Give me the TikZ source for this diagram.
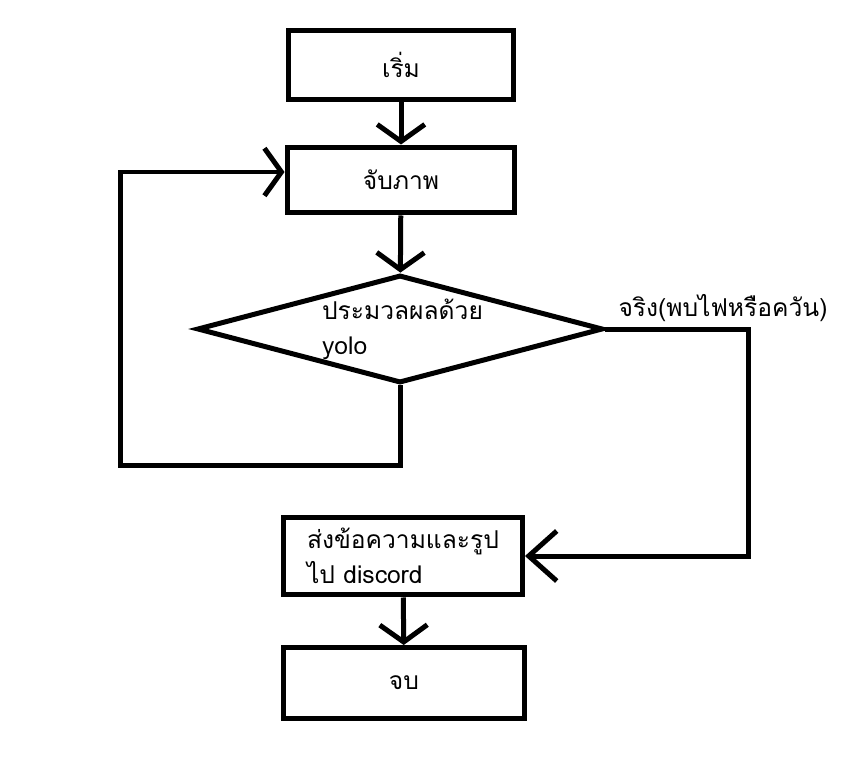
\documentclass[tikz,border=0pt]{standalone}
\usepackage{fontspec}
\setmainfont[Script=Thai]{Loma}
\usetikzlibrary{arrows.meta,shapes.geometric}

\tikzset{
  stepbox/.style={draw, line width=0.1cm, rectangle, inner sep=0pt},
  testbox/.style={draw, line width=0.1cm, diamond, aspect=3.76, inner sep=0pt, align=left},
  flow/.style={line width=0.1cm, -{Straight Barb[length=0.34cm,width=0.95cm,line width=0.1cm]}},
  loopflow/.style={line width=0.1cm, -{Straight Barb[length=0.56cm,width=1cm,line width=0.1cm]}},
  link/.style={line width=0.1cm}
}

\begin{document}
\begin{tikzpicture}[x=0.02cm, y=-0.02cm, font=\fontsize{14pt}{20pt}\selectfont]

  \useasboundingbox (0,0) rectangle (845,770);

  % boxes of the flow
  \node[stepbox, minimum width=4.5cm, minimum height=1.38cm] (start) at (401,65) {เริ่ม};
  \node[stepbox, minimum width=4.56cm, minimum height=1.32cm] (cap) at (401,180) {จับภาพ};
  \node[testbox, minimum width=8.12cm, minimum height=2.16cm] (dia) at (400,329)
    {\hspace*{0.1cm}ประมวลผลด้วย\\\hspace*{0.1cm}yolo};
  \node[stepbox, minimum width=4.78cm, minimum height=1.56cm, align=left] (send) at (403,556)
    {ส่งข้อความและรูป\\ไป discord};
  \node[stepbox, minimum width=4.82cm, minimum height=1.42cm] (stop) at (404,683) {จบ};

  \node (yeslbl) at (723,308) {จริง(พบไฟหรือควัน)};

  % corners of the two loops
  \coordinate (yesx) at (748,0);
  \coordinate (loopl) at (120,465);

  \draw[flow] (start) -- (cap);
  \draw[flow] (cap) -- (dia);
  \draw[flow] (dia.south) |- (loopl) |- ([yshift=0.16cm]cap.west);
  \draw[loopflow] (dia.east) -- (dia.east -| yesx) |- (send.east);
  \draw[flow] (send) -- (stop);

\end{tikzpicture}
\end{document}
